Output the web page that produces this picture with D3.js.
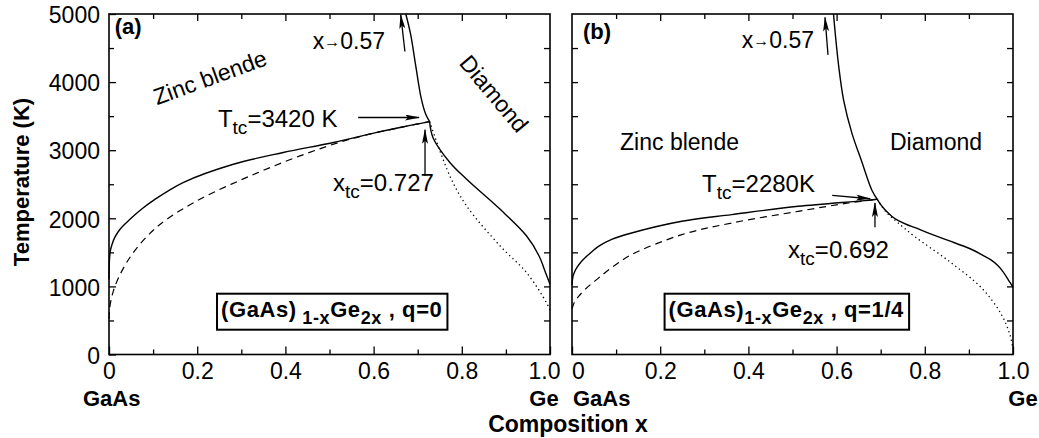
<!DOCTYPE html>
<html lang="en">
<head>
    <meta charset="UTF-8">
    <title>(GaAs)1-xGe2x order-disorder phase diagram</title>
    <script src="https://d3js.org/d3.v7.min.js"></script>
    <style>
        body { margin: 0; background: #fff; }
        svg text { font-family: "Liberation Sans", Arial, Helvetica, sans-serif; fill: #000; white-space: pre; }
    </style>
</head>
<body>

</body>
<script>
    const WIDTH = 1039, HEIGHT = 438;

    // axes
    const xTicks = [0, 0.2, 0.4, 0.6, 0.8, 1.0];
    const xTickLabels = ["0", "0.2", "0.4", "0.6", "0.8", "1.0"];
    const xMinorTicks = [0.1, 0.3, 0.5, 0.7, 0.9];
    const yTicks = [0, 1000, 2000, 3000, 4000, 5000];
    const yMinorTicks = [500, 1500, 2500, 3500, 4500];

    // panel (a), q = 0   -- points are [x, T in K]
    const zincSolidA = [[0, 1100], [0.001, 1380], [0.003, 1520], [0.007, 1620], [0.014, 1730], [0.025, 1840],
        [0.04, 1940], [0.055, 2030], [0.075, 2140], [0.1, 2260], [0.168, 2525], [0.282, 2794], [0.395, 2966],
        [0.509, 3113], [0.62, 3280], [0.68, 3360], [0.727, 3420]];
    const zincDashedA = [[0, 520], [0.002, 700], [0.005, 810], [0.01, 935], [0.02, 1105], [0.035, 1295],
        [0.055, 1495], [0.09, 1760], [0.131, 1985], [0.206, 2279], [0.32, 2622], [0.433, 2916], [0.546, 3162],
        [0.66, 3333], [0.727, 3420]];
    const upperA = [[0.673, 5000], [0.684, 4700], [0.696, 4220], [0.708, 3760], [0.718, 3530], [0.727, 3420]];
    const diamondSolidA = [[0.727, 3420], [0.735, 3180], [0.773, 2820], [0.811, 2573], [0.887, 2132],
        [0.947, 1740], [0.975, 1450], [0.99, 1200], [1.0, 1030]];
    const diamondDottedA = [[0.727, 3420], [0.773, 2620], [0.811, 2181], [0.887, 1593], [0.947, 1201],
        [0.992, 760], [1.0, 650]];

    // panel (b), q = 1/4
    const zincSolidB = [[0, 1020], [0.002, 1140], [0.006, 1215], [0.012, 1286], [0.02, 1355], [0.029, 1416],
        [0.045, 1510], [0.06, 1588], [0.09, 1690], [0.135, 1784], [0.249, 1956], [0.362, 2054], [0.513, 2176],
        [0.664, 2260], [0.692, 2280]];
    const zincDashedB = [[0, 670], [0.005, 760], [0.015, 853], [0.03, 958], [0.06, 1122], [0.095, 1300],
        [0.135, 1466], [0.249, 1760], [0.362, 1931], [0.513, 2103], [0.627, 2225], [0.692, 2280]];
    const upperB = [[0.593, 5000], [0.597, 4710], [0.605, 4220], [0.616, 3732], [0.635, 3243], [0.656, 2852],
        [0.68, 2412], [0.692, 2280]];
    const diamondSolidB = [[0.692, 2280], [0.7, 2200], [0.712, 2110], [0.725, 2030], [0.74, 1965],
        [0.76, 1905], [0.778, 1862], [0.81, 1780], [0.853, 1675], [0.9, 1560], [0.929, 1466], [0.95, 1390],
        [0.965, 1310], [0.978, 1210], [0.99, 1090], [1.0, 990]];
    const diamondDottedB = [[0.692, 2280], [0.712, 2095], [0.74, 1930], [0.778, 1727], [0.853, 1380],
        [0.929, 975], [0.974, 584], [0.993, 290], [1.0, 80]];

    const criticalT = [3420, 2280];
    const criticalX = [0.727, 0.692];
    const qLabels = ["0", "1/4"];

    const panels = [
        {
            name: "(a)", left: 109, right: 550, q: qLabels[0], tc: criticalT[0], xc: criticalX[0],
            curves: [
                {data: zincSolidA, style: "solid"}, {data: zincDashedA, style: "dashed"},
                {data: upperA, style: "solid"}, {data: diamondSolidA, style: "solid"},
                {data: diamondDottedA, style: "dotted"}
            ],
            yLabels: true,
            notes: {
                tag: [0.013, 4700],
                zinc: {at: [0.229, 4070], rot: -20, anchor: "middle"},
                diamond: {at: [0.873, 3830], rot: 50, anchor: "middle"},
                limit: [0.462, 4490], limitArrow: [[0.671, 4450], [0.6615, 4990]],
                tText: [0.247, 3340], tArrow: [[0.565, 3480], [0.703, 3480]], tSpace: " ",
                xText: [0.508, 2400], xArrow: [[0.7166, 2620], [0.7166, 3300]],
                box: [0.254, 555]
            },
            gaasShift: -26, geShift: -6, oneShift: -6, zeroShift: 0
        },
        {
            name: "(b)", left: 572, right: 1013, q: qLabels[1], tc: criticalT[1], xc: criticalX[1],
            curves: [
                {data: zincSolidB, style: "solid"}, {data: zincDashedB, style: "dashed"},
                {data: upperB, style: "solid"}, {data: diamondSolidB, style: "solid"},
                {data: diamondDottedB, style: "dotted"}
            ],
            yLabels: false,
            notes: {
                tag: [0.025, 4630],
                zinc: {at: [0.109, 3010], rot: 0, anchor: "start"},
                diamond: {at: [0.721, 3010], rot: 0, anchor: "start"},
                limit: [0.385, 4505], limitArrow: [[0.5805, 4400], [0.5737, 4950]],
                tText: [0.295, 2385], tArrow: [[0.59, 2338], [0.676, 2287]], tSpace: "",
                xText: [0.49, 1410], xArrow: [[0.687, 1870], [0.687, 2225]],
                box: [0.219, 555]
            },
            gaasShift: 1, geShift: 10, oneShift: 0, zeroShift: 6
        }
    ];

    const TOP = 14, BOTTOM = 354.5;

    let svg = d3.select("body").append("svg").attr("width", WIDTH).attr("height", HEIGHT);
    svg.append("rect").attr("width", WIDTH).attr("height", HEIGHT).style("fill", "#fff");

    svg.append("defs").append("marker")
        .attr("id", "head").attr("markerUnits", "userSpaceOnUse")
        .attr("viewBox", "0 0 15 6").attr("markerWidth", 15).attr("markerHeight", 6)
        .attr("refX", 14).attr("refY", 3).attr("orient", "auto")
        .append("path").attr("d", "M0,0 L15,3 L0,6 L3,3 Z").style("fill", "#000");

    // writes text made of normal / subscript pieces
    function richText(g, x, y, parts, size, subSize, subDrop, weight) {
        let t = g.append("text").attr("x", x).attr("y", y)
            .attr("font-size", size).attr("font-weight", weight || "normal");
        let shift = 0;
        parts.forEach(p => {
            let drop = p[1] === "sub" ? subDrop : 0;
            t.append("tspan").attr("dy", drop - shift)
                .attr("font-size", p[1] === "sub" ? subSize : size).text(p[0]);
            shift = drop;
        });
        return t;
    }

    function drawPanel(p) {
        let x = d3.scaleLinear().domain([0, 1]).range([p.left, p.right]);
        let y = d3.scaleLinear().domain([0, 5000]).range([BOTTOM, TOP]);
        let g = svg.append("g");

        // curves
        let line = d3.line().x(d => x(d[0])).y(d => y(d[1])).curve(d3.curveCatmullRom.alpha(0.5));
        p.curves.forEach(c => {
            let path = g.append("path").attr("d", line(c.data))
                .style("fill", "none").style("stroke", "#000");
            if (c.style === "solid") path.style("stroke-width", 1.4);
            if (c.style === "dashed") path.style("stroke-width", 1.2).style("stroke-dasharray", "7,5");
            if (c.style === "dotted") path.style("stroke-width", 1.3).style("stroke-dasharray", "1.3,3.2");
        });

        // axes, ticks pointing inside the frame
        let bottom = g.append("g").attr("transform", `translate(0,${BOTTOM})`)
            .call(d3.axisBottom(x).tickValues(xTicks).tickSizeInner(-8).tickSizeOuter(0).tickPadding(8)
                .tickFormat((d, i) => xTickLabels[i]));
        bottom.selectAll("text").attr("font-size", 23).attr("font-family", null)
            .attr("dx", (d, i) => i === 0 ? p.zeroShift : (i === xTicks.length - 1 ? p.oneShift : 0));
        g.append("g").attr("transform", `translate(0,${BOTTOM})`)
            .call(d3.axisBottom(x).tickValues(xMinorTicks).tickSizeInner(-5).tickSizeOuter(0).tickFormat(""));
        g.append("g").attr("transform", `translate(0,${TOP})`)
            .call(d3.axisTop(x).tickValues(xTicks.slice(1, -1)).tickSizeInner(-7).tickSizeOuter(0).tickFormat(""));
        g.append("g").attr("transform", `translate(0,${TOP})`)
            .call(d3.axisTop(x).tickValues(xMinorTicks).tickSizeInner(-5).tickSizeOuter(0).tickFormat(""));

        let allY = yTicks.concat(yMinorTicks).filter(v => v > 0 && v < 5000);
        if (p.yLabels) {
            let left = g.append("g").attr("transform", `translate(${p.left},0)`)
                .call(d3.axisLeft(y).tickValues(yTicks).tickSizeInner(-7).tickSizeOuter(0).tickPadding(9)
                    .tickFormat(d3.format("d")));
            left.selectAll("text").attr("font-size", 23).attr("font-family", null).attr("dy", "0.38em");
            g.append("g").attr("transform", `translate(${p.left},0)`)
                .call(d3.axisLeft(y).tickValues(yMinorTicks).tickSizeInner(-5).tickSizeOuter(0).tickFormat(""));
        } else {
            g.append("g").attr("transform", `translate(${p.left},0)`)
                .call(d3.axisLeft(y).tickValues(allY).tickSizeInner(-6).tickSizeOuter(0).tickFormat(""));
        }
        g.append("g").attr("transform", `translate(${p.right},0)`)
            .call(d3.axisRight(y).tickValues(allY).tickSizeInner(-6).tickSizeOuter(0).tickFormat(""));
        g.selectAll(".domain").remove();
        g.selectAll(".tick line").style("stroke-width", 1.3);

        g.append("rect").attr("x", p.left).attr("y", TOP)
            .attr("width", p.right - p.left).attr("height", BOTTOM - TOP)
            .style("fill", "none").style("stroke", "#000").style("stroke-width", 1.6);

        // end-member labels
        g.append("text").attr("x", p.left + p.gaasShift).attr("y", 406)
            .attr("font-size", 22).attr("font-weight", "bold").text("GaAs");
        g.append("text").attr("x", p.right + p.geShift).attr("y", 406).attr("text-anchor", "middle")
            .attr("font-size", 22).attr("font-weight", "bold").text("Ge");

        // annotations
        let n = p.notes;
        g.append("text").attr("x", x(n.tag[0])).attr("y", y(n.tag[1]))
            .attr("font-size", 22).attr("font-weight", "bold").text(p.name);

        g.append("text").attr("font-size", 23).attr("text-anchor", n.zinc.anchor)
            .attr("dy", n.zinc.rot ? "0.35em" : 0)
            .attr("transform", `translate(${x(n.zinc.at[0])},${y(n.zinc.at[1])}) rotate(${n.zinc.rot})`)
            .text("Zinc blende");
        g.append("text").attr("font-size", 23).attr("text-anchor", n.diamond.anchor)
            .attr("dy", n.diamond.rot ? "0.35em" : 0)
            .attr("transform", `translate(${x(n.diamond.at[0])},${y(n.diamond.at[1])}) rotate(${n.diamond.rot})`)
            .text("Diamond");

        let lim = g.append("text").attr("x", x(n.limit[0])).attr("y", y(n.limit[1])).attr("font-size", 23);
        lim.append("tspan").text("x");
        lim.append("tspan").attr("font-size", 16).attr("dy", -2).text("\u2192");
        lim.append("tspan").attr("dy", 2).text("0.57");

        richText(g, x(n.tText[0]), y(n.tText[1]),
            [["T", ""], ["tc", "sub"], ["=" + p.tc + n.tSpace + "K", ""]], 24, 19, 7);
        richText(g, x(n.xText[0]), y(n.xText[1]),
            [["x", ""], ["tc", "sub"], ["=" + p.xc, ""]], 24, 19, 7);

        [n.limitArrow, n.tArrow, n.xArrow].forEach(a => {
            g.append("line").attr("x1", x(a[0][0])).attr("y1", y(a[0][1]))
                .attr("x2", x(a[1][0])).attr("y2", y(a[1][1]))
                .style("stroke", "#000").style("stroke-width", 1.3).attr("marker-end", "url(#head)");
        });

        // composition box
        let boxText = richText(g, x(n.box[0]), y(n.box[1]),
            [["(GaAs)", ""], [(p.q === "0" ? " " : "") + "1-x", "sub"], ["Ge", ""], ["2x", "sub"], [" , q=" + p.q, ""]],
            22, 18, 7, "bold");
        boxText.attr("letter-spacing", 0.6);
        let bb = boxText.node().getBBox();
        g.insert("rect", () => boxText.node())
            .attr("x", bb.x - 4).attr("y", bb.y - 3).attr("width", bb.width + 9).attr("height", bb.height + 5)
            .style("fill", "#fff").style("stroke", "#000").style("stroke-width", 2);
    }

    panels.forEach(drawPanel);

    // shared axis titles
    svg.append("text").attr("x", 568).attr("y", 432).attr("text-anchor", "middle")
        .attr("font-size", 23).attr("font-weight", "bold").text("Composition x");
    svg.append("text").attr("transform", "translate(29,182) rotate(-90)").attr("text-anchor", "middle")
        .attr("font-size", 22).attr("font-weight", "bold").text("Temperature (K)");
</script>
</html>
